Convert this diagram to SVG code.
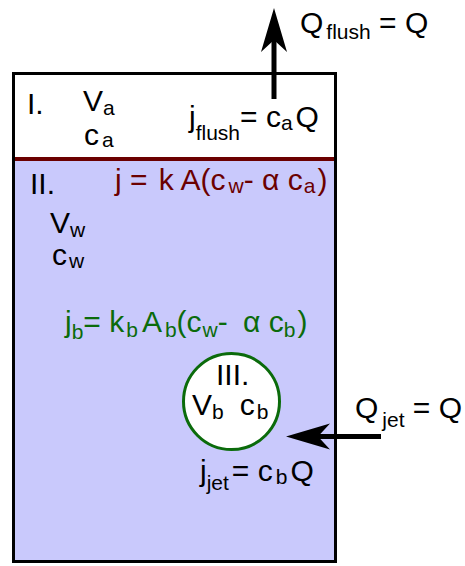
<svg xmlns="http://www.w3.org/2000/svg" width="465" height="566" viewBox="0 0 465 566">
<defs>
<style>
text{font-family:"Liberation Sans",Arial,sans-serif;fill:#000;font-size:30px}
.s{font-size:21px}
.red{fill:#6b0000}
.grn{fill:#0b6b0b}
</style>
<marker id="ah" markerUnits="userSpaceOnUse" markerWidth="60" markerHeight="40" refX="0" refY="0" orient="auto" overflow="visible">
<path d="M32,0 L-12,-13 L0,0 L-12,13 Z" fill="#000"/>
</marker>
</defs>
<g id="tank">
<rect x="13.5" y="73.5" width="322" height="488" fill="#c9c9fc"/>
<rect x="13.5" y="73.5" width="322" height="85.5" fill="#fff"/>
</g>
<g id="region-I">
<text x="27" y="114">I.</text>
<text x="83" y="111">V<tspan class="s" dy="4">a</tspan></text>
<text x="84" y="145">c<tspan class="s" dx="3" dy="2">a</tspan></text>
<text x="189" y="127">j<tspan class="s" dy="13">flush</tspan><tspan dy="-13">= c</tspan><tspan class="s" dy="3">a</tspan><tspan dx="3" dy="-3">Q</tspan></text>
</g>
<g id="interface">
<line x1="12" y1="159" x2="337" y2="159" stroke="#6b0000" stroke-width="4"/>
<text class="red" x="115" y="190">j = <tspan dx="3">k A(c</tspan><tspan class="s" dx="3" dy="3">w</tspan><tspan dy="-3">- α c</tspan><tspan class="s" dx="1" dy="3">a</tspan><tspan dx="2" dy="-3">)</tspan></text>
</g>
<g id="region-II">
<text x="30" y="194">II.</text>
<text x="50" y="233">V<tspan class="s" dy="4">w</tspan></text>
<text x="52" y="265">c<tspan class="s" dx="2" dy="3">w</tspan></text>
<text class="grn" x="65" y="332">j<tspan class="s" dy="7">b</tspan><tspan dy="-7">= k</tspan><tspan class="s" dx="2" dy="5">b</tspan><tspan dx="4" dy="-5">A</tspan><tspan class="s" dx="3" dy="5">b</tspan><tspan dy="-5">(c</tspan><tspan class="s" dx="1" dy="5">w</tspan><tspan dy="-5">-</tspan><tspan dx="7"> α c</tspan><tspan class="s" dy="5">b</tspan><tspan dx="2" dy="-5">)</tspan></text>
</g>
<g id="region-III">
<circle cx="231.5" cy="401.5" r="48" fill="#fff" stroke="#0b6b0b" stroke-width="3"/>
<text x="216" y="385">III.</text>
<text x="192" y="415">V<tspan class="s" dy="4">b</tspan><tspan dx="16" dy="-4">c</tspan><tspan class="s" dx="2" dy="4">b</tspan></text>
<text x="200" y="481">j<tspan class="s" dy="9">jet</tspan><tspan dx="3" dy="-9">= c</tspan><tspan class="s" dx="3" dy="3">b</tspan><tspan dx="3" dy="-3">Q</tspan></text>
</g>
<g id="tank-outline">
<rect x="13.5" y="73.5" width="322" height="488" fill="none" stroke="#000" stroke-width="3"/>
</g>
<g id="connectors">
<line x1="274" y1="99" x2="274" y2="40" stroke="#000" stroke-width="5" marker-end="url(#ah)"/>
<line x1="381" y1="436.5" x2="318" y2="436.5" stroke="#000" stroke-width="5" marker-end="url(#ah)"/>
</g>
<g id="labels-flow">
<text x="300" y="33">Q<tspan class="s" dx="3" dy="6">flush</tspan><tspan dy="-6"> = Q</tspan></text>
<text x="355" y="418">Q<tspan class="s" dx="4" dy="9">jet</tspan><tspan dy="-9"> = Q</tspan></text>
</g>
</svg>
